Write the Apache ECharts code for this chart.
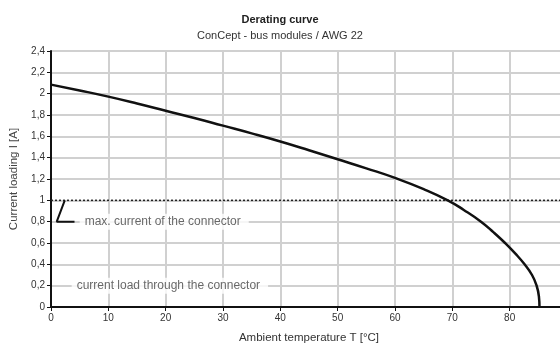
<!DOCTYPE html>
<html><head><meta charset="utf-8">
<script src="https://cdn.jsdelivr.net/npm/echarts@6/dist/echarts.min.js"></script>
<style>html,body{margin:0;padding:0;background:#fff}#c{width:560px;height:345px}</style>
</head><body><div id="c"></div>
<script>
const titleText = 'Derating curve';
const subtitleText = 'ConCept - bus modules / AWG 22';
const xName = 'Ambient temperature T [°C]';
const yName = 'Current loading I [A]';
// derating curve points [temperature, current]
const curveT = [0, 5, 10, 15, 20, 25, 30, 35, 40, 45, 50, 55, 60, 65, 69.2, 72, 75, 77.2, 79.2, 81, 82.6, 83.9, 84.7, 85.1, 85.2];
const curveI = [2.085, 2.03, 1.972, 1.908, 1.84, 1.772, 1.70, 1.628, 1.552, 1.47, 1.385, 1.30, 1.21, 1.105, 1.0, 0.91, 0.8, 0.7, 0.6, 0.5, 0.4, 0.3, 0.2, 0.1, 0];
const maxCurrentT = [0, 90];
const maxCurrentI = [1, 1];
const leaderT = [2.4, 1.0, 4.1];
const leaderI = [1.0, 0.8, 0.8];
const notes = ['max. current of the connector', 'current load through the connector'];
const noteT = [5.0, 3.6];
const noteI = [0.8, 0.2];

const zip = (a, b) => a.map((v, i) => [v, b[i]]);
const font = 'Liberation Sans, Arial, sans-serif';
const chart = echarts.init(document.getElementById('c'), null, {renderer: 'canvas'});
chart.setOption({
  animation: false,
  textStyle: {fontFamily: font},
  title: {
    text: titleText, subtext: subtitleText,
    left: 'center', top: 9, itemGap: 5,
    textStyle: {fontSize: 11, fontWeight: 'bold', color: '#222', fontFamily: font},
    subtextStyle: {fontSize: 11, color: '#333', fontFamily: font}
  },
  grid: {left: 51, top: 51, width: 516, height: 256, containLabel: false, outerBoundsMode: 'none'},
  xAxis: {
    type: 'value', min: 0, max: 90, interval: 10,
    name: xName, nameLocation: 'middle', nameGap: 25,
    nameTextStyle: {fontSize: 11.5, color: '#333'},
    axisLine: {lineStyle: {color: '#111', width: 2}},
    axisTick: {length: 4, lineStyle: {color: '#111'}},
    axisLabel: {fontSize: 10, color: '#333', margin: 6},
    splitLine: {lineStyle: {color: '#d0d0d0', width: 2}}
  },
  yAxis: {
    type: 'value', min: 0, max: 2.4, interval: 0.2,
    name: yName, nameLocation: 'middle', nameGap: 31,
    nameTextStyle: {fontSize: 11.5, color: '#444'},
    axisLine: {show: true, lineStyle: {color: '#111', width: 2}},
    axisTick: {show: true, length: 4, lineStyle: {color: '#111'}},
    axisLabel: {fontSize: 10, color: '#333', margin: 6,
      formatter: v => String(Math.round(v * 10) / 10).replace('.', ',')},
    splitLine: {lineStyle: {color: '#d0d0d0', width: 2}}
  },
  series: [
    {type: 'line', data: zip(curveT, curveI), smooth: 0.5, symbol: 'none',
     lineStyle: {color: '#111', width: 2.5}, z: 5},
    {type: 'line', data: zip(maxCurrentT, maxCurrentI), symbol: 'none',
     lineStyle: {color: '#222', width: 1.5, type: [2, 2]}, z: 4},
    {type: 'line', data: zip(leaderT, leaderI), symbol: 'none',
     lineStyle: {color: '#111', width: 2}, z: 4},
    {type: 'scatter', symbolSize: 0, z: 6,
     data: notes.map((n, i) => ({value: [noteT[i], noteI[i]], name: n})),
     label: {show: true, position: 'right', distance: 0, formatter: p => p.name,
       fontSize: 12, color: '#444', backgroundColor: '#fff', padding: [2, 8, 2, 5]}}
  ]
});
</script></body></html>
